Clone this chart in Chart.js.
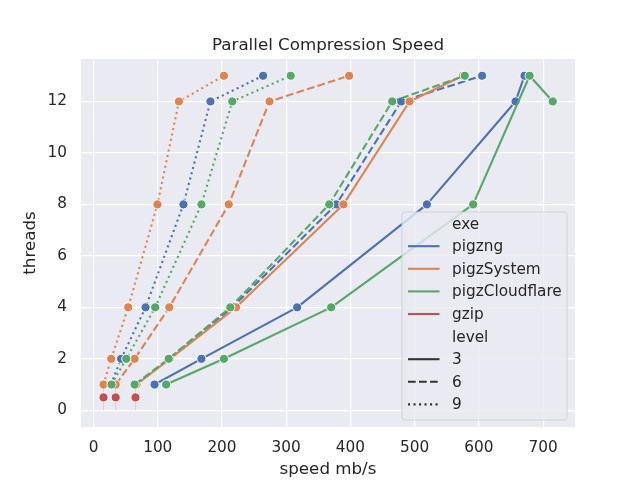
<!DOCTYPE html>
<html>
<head>
<meta charset="utf-8">
<script src="https://cdn.jsdelivr.net/npm/chart.js@4.4.0/dist/chart.umd.min.js"></script>
<style>
    html, body { margin: 0; padding: 0; background: #fff; }
</style>
</head>
<body>
<canvas id="myChart" width="640" height="480"></canvas>
<script>
// threads used for every pigz run, speeds (mb/s)
const threads = [1, 2, 4, 8, 12, 13];

const pigzng3 = [95, 168, 317, 519, 657, 671];
const pigzng6 = [66, 118, 216, 378, 479, 605];
const pigzng9 = [27, 43, 81, 140, 182, 264];

const pigzSystem3 = [67, 119, 222, 389, 492, 575];
const pigzSystem6 = [34.5, 64, 118, 210.5, 274, 398];
const pigzSystem9 = [15.5, 27.5, 54, 99.5, 133, 203];

const pigzCloudflare3 = [113, 203, 370, 591, 715, 679];
const pigzCloudflare6 = [64, 117, 213, 367, 465, 578];
const pigzCloudflare9 = [28, 51, 96, 168, 216, 307];

// gzip is single threaded, plotted at mean 0.5 with a 0..1 band
const gzipThreads = [0.5];
const gzipLow = [0];
const gzipHigh = [1];
const gzip3 = [65.3];
const gzip6 = [34.5];
const gzip9 = [15.5];

const exeNames = ["pigzng", "pigzSystem", "pigzCloudflare", "gzip"];
const exeColors = ["#4C72B0", "#DD8452", "#55A868", "#C44E52"];
const levels = ["3", "6", "9"];

const xTicks = [0, 100, 200, 300, 400, 500, 600, 700];
const yTicks = [0, 2, 4, 6, 8, 10, 12];

const levelDash = { "3": [], "6": [7.7, 3.3], "9": [2.1, 3.4] };

const speedTable = {
    pigzng: [pigzng3, pigzng6, pigzng9],
    pigzSystem: [pigzSystem3, pigzSystem6, pigzSystem9],
    pigzCloudflare: [pigzCloudflare3, pigzCloudflare6, pigzCloudflare9],
};
const gzipTable = [gzip3, gzip6, gzip9];

const textColor = "#262626";
const font = "'DejaVu Sans', 'Liberation Sans', sans-serif";

const datasets = [];

exeNames.forEach((exe, e) => {
    levels.forEach((lvl, l) => {
        if (exe === "gzip") {
            const vals = gzipTable[l];
            // error band (zero width, so only a faint vertical line)
            datasets.push({
                label: exe + " " + lvl + " band",
                data: vals.map((v, i) => [
                    { x: v, y: gzipLow[i] },
                    { x: v, y: gzipHigh[i] },
                ]).flat(),
                borderColor: "rgba(196, 78, 82, 0.2)",
                borderWidth: 1,
                pointRadius: 0,
            });
            datasets.push({
                label: exe + " " + lvl,
                data: vals.map((v, i) => ({ x: v, y: gzipThreads[i] })),
                borderColor: exeColors[e],
                backgroundColor: exeColors[e],
                borderWidth: 2.1,
                borderDash: levelDash[lvl],
                pointRadius: 4.6,
                pointBackgroundColor: exeColors[e],
                pointBorderColor: "#ffffff",
                pointBorderWidth: 1,
            });
            return;
        }
        // seaborn sorts each line by x before drawing
        const pts = threads
            .map((t, i) => ({ x: speedTable[exe][l][i], y: t }))
            .sort((a, b) => a.x - b.x);
        datasets.push({
            label: exe + " " + lvl,
            data: pts,
            borderColor: exeColors[e],
            backgroundColor: exeColors[e],
            borderWidth: 2.1,
            borderDash: levelDash[lvl],
            borderCapStyle: "butt",
            borderJoinStyle: "round",
            pointRadius: 4.6,
            pointBackgroundColor: exeColors[e],
            pointBorderColor: "#ffffff",
            pointBorderWidth: 1,
        });
    });
});

// later datasets on top, like matplotlib
datasets.forEach((ds, i) => { ds.order = datasets.length - i; });

const axesBackground = {
    id: "axesBackground",
    beforeDraw(chart) {
        const { ctx, chartArea } = chart;
        ctx.save();
        ctx.fillStyle = "#EAEAF2";
        ctx.fillRect(chartArea.left, chartArea.top,
            chartArea.right - chartArea.left, chartArea.bottom - chartArea.top);
        ctx.restore();
    },
};

const titleAndLegend = {
    id: "titleAndLegend",
    afterDraw(chart) {
        const { ctx, chartArea } = chart;
        ctx.save();

        // title
        ctx.fillStyle = textColor;
        ctx.font = "16.7px " + font;
        ctx.textAlign = "center";
        ctx.textBaseline = "alphabetic";
        ctx.fillText("Parallel Compression Speed",
            (chartArea.left + chartArea.right) / 2, chartArea.top - 9);

        // legend box in the lower right
        const w = 165, h = 208;
        const x0 = chartArea.right - 8 - w;
        const y0 = chartArea.bottom - 7 - h;
        ctx.beginPath();
        ctx.roundRect(x0, y0, w, h, 3);
        ctx.fillStyle = "rgba(234, 234, 242, 0.8)";
        ctx.fill();
        ctx.strokeStyle = "rgba(204, 204, 204, 0.8)";
        ctx.lineWidth = 1;
        ctx.stroke();

        const rows = [{ text: "exe" }];
        exeNames.forEach((n, i) => rows.push({ text: n, color: exeColors[i], dash: [] }));
        rows.push({ text: "level" });
        levels.forEach((lv) => rows.push({ text: lv, color: "#333333", dash: levelDash[lv] }));

        ctx.font = "15.3px " + font;
        ctx.textAlign = "left";
        ctx.textBaseline = "middle";
        rows.forEach((r, k) => {
            const y = y0 + 11.6 + k * 22.6;
            if (r.color) {
                ctx.beginPath();
                ctx.setLineDash(r.dash);
                ctx.lineCap = "butt";
                ctx.strokeStyle = r.color;
                ctx.lineWidth = 2.1;
                ctx.moveTo(x0 + 6, y);
                ctx.lineTo(x0 + 37.5, y);
                ctx.stroke();
                ctx.setLineDash([]);
            }
            ctx.fillStyle = textColor;
            ctx.fillText(r.text, x0 + 50, y + 1);
        });
        ctx.restore();
    },
};

const config = {
    type: "line",
    data: { datasets: datasets },
    options: {
        responsive: false,
        devicePixelRatio: 1,
        animation: false,
        layout: {
            padding: { top: 59, right: 65, left: 0, bottom: 0 },
        },
        plugins: {
            legend: { display: false },
            tooltip: { enabled: false },
            title: { display: false },
        },
        scales: {
            x: {
                type: "linear",
                min: -19.5,
                max: 749.6,
                afterBuildTicks(scale) {
                    scale.ticks = xTicks.map((v) => ({ value: v }));
                },
                afterFit(scale) {
                    scale.height = 53;
                },
                border: { display: false },
                grid: { color: "#ffffff", lineWidth: 1.2, drawTicks: false },
                ticks: {
                    color: textColor,
                    font: { family: font, size: 15.3 },
                    padding: 12,
                    maxRotation: 0,
                },
                title: {
                    display: true,
                    text: "speed mb/s",
                    color: textColor,
                    font: { family: font, size: 16.7, lineHeight: 1.2 },
                    padding: { top: 0, bottom: 0 },
                },
            },
            y: {
                type: "linear",
                min: -0.65,
                max: 13.65,
                afterBuildTicks(scale) {
                    scale.ticks = yTicks.map((v) => ({ value: v }));
                },
                afterFit(scale) {
                    scale.width = 81;
                },
                border: { display: false },
                grid: { color: "#ffffff", lineWidth: 1.2, drawTicks: false },
                ticks: {
                    color: textColor,
                    font: { family: font, size: 15.3 },
                    padding: 14,
                },
                title: {
                    display: true,
                    text: "threads",
                    color: textColor,
                    font: { family: font, size: 16.7, lineHeight: 1.2 },
                    padding: { top: 21, bottom: 0 },
                },
            },
        },
    },
    plugins: [axesBackground, titleAndLegend],
};

document.addEventListener("DOMContentLoaded", function () {
    const ctx = document.getElementById("myChart").getContext("2d");
    const myChart = new Chart(ctx, config);
});
</script>
</body>
</html>
